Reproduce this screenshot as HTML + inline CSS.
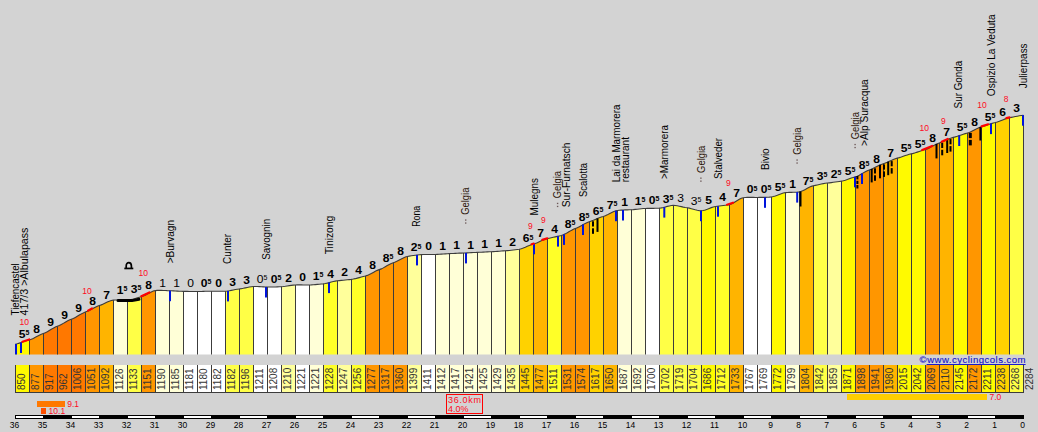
<!DOCTYPE html><html><head><meta charset="utf-8"><title>Julierpass</title><style>html,body{margin:0;padding:0;background:#d3d3d3;}body{width:1038px;height:432px;position:relative;overflow:hidden;font-family:"Liberation Sans",sans-serif;}</style></head><body><svg width="1038" height="432" viewBox="0 0 1038 432" style="position:absolute;left:0;top:0" font-family="Liberation Sans, sans-serif">
<rect width="1038" height="432" fill="#d3d3d3"/>
<polygon points="15,354.5 15,344.20 17,343.73 19,343.14 21,342.48 23,341.77 25,341.08 27,340.44 29,339.89 29,354.5" fill="#fffa00"/>
<polygon points="29,354.5 29,339.89 31,339.25 33,338.38 35,337.35 37,336.26 39,335.20 41,334.25 43,333.50 43,354.5" fill="#ff9600"/>
<polygon points="43,354.5 43,333.50 45,332.73 47,331.71 49,330.54 51,329.32 53,328.15 55,327.11 57,326.31 57,354.5" fill="#ff7800"/>
<polygon points="57,354.5 57,326.31 59,325.53 61,324.52 63,323.39 65,322.21 67,321.08 69,320.07 71,319.29 71,354.5" fill="#ff7800"/>
<polygon points="71,354.5 71,319.29 73,318.49 75,317.46 77,316.28 79,315.07 81,313.90 83,312.88 85,312.10 85,354.5" fill="#ff7800"/>
<polygon points="85,354.5 85,312.10 87,311.34 89,310.39 91,309.31 93,308.20 95,307.15 97,306.24 99,305.55 99,354.5" fill="#ff9600"/>
<polygon points="99,354.5 99,305.55 101,304.88 103,304.02 105,303.06 107,302.09 109,301.22 111,300.53 113,300.12 113,354.5" fill="#ffb400"/>
<polygon points="113,354.5 113,300.12 115,299.98 117,299.98 119,300.07 121,300.21 123,300.33 125,300.38 127,300.30 127,354.5" fill="#ffffd7"/>
<polygon points="127,354.5 127,300.30 129,300.04 131,299.61 133,299.06 135,298.44 137,297.80 139,297.21 141,296.70 141,354.5" fill="#ffff46"/>
<polygon points="141,354.5 141,296.70 143,296.07 145,295.15 147,294.07 149,292.94 151,291.91 153,291.09 155,290.60 155,354.5" fill="#ff9600"/>
<polygon points="155,354.5 155,290.60 157,290.40 159,290.33 161,290.35 163,290.43 165,290.53 167,290.64 169,290.70 169,354.5" fill="#ffffd7"/>
<polygon points="169,354.5 169,290.70 171,290.76 173,290.85 175,290.96 177,291.08 179,291.19 181,291.28 183,291.34 183,354.5" fill="#ffffd7"/>
<polygon points="183,354.5 183,291.34 185,291.38 187,291.41 189,291.44 191,291.47 193,291.49 195,291.50 197,291.50 197,354.5" fill="#ffffff"/>
<polygon points="197,354.5 197,291.50 199,291.48 201,291.43 203,291.38 205,291.31 207,291.25 209,291.21 211,291.18 211,354.5" fill="#ffffff"/>
<polygon points="211,354.5 211,291.18 213,291.18 215,291.21 217,291.24 219,291.27 221,291.28 223,291.25 225,291.18 225,354.5" fill="#ffffff"/>
<polygon points="225,354.5 225,291.18 227,291.01 229,290.72 231,290.36 233,289.96 235,289.56 237,289.21 239,288.94 239,354.5" fill="#ffff46"/>
<polygon points="239,354.5 239,288.94 241,288.67 243,288.29 245,287.86 247,287.42 249,287.03 251,286.72 253,286.55 253,354.5" fill="#ffff46"/>
<polygon points="253,354.5 253,286.55 255,286.51 257,286.55 259,286.65 261,286.77 263,286.89 265,286.98 267,287.03 267,354.5" fill="#ffffff"/>
<polygon points="267,354.5 267,287.03 269,287.03 271,287.01 273,286.98 275,286.93 277,286.87 279,286.80 281,286.71 281,354.5" fill="#ffffff"/>
<polygon points="281,354.5 281,286.71 283,286.55 285,286.30 287,285.98 289,285.65 291,285.34 293,285.10 295,284.95 295,354.5" fill="#ffff9b"/>
<polygon points="295,354.5 295,284.95 297,284.90 299,284.89 301,284.91 303,284.94 305,284.97 307,284.98 309,284.95 309,354.5" fill="#ffffff"/>
<polygon points="309,354.5 309,284.95 311,284.88 313,284.76 315,284.60 317,284.42 319,284.23 321,284.03 323,283.83 323,354.5" fill="#ffffd7"/>
<polygon points="323,354.5 323,283.83 325,283.55 327,283.12 329,282.60 331,282.05 333,281.53 335,281.09 337,280.80 337,354.5" fill="#ffff28"/>
<polygon points="337,354.5 337,280.80 339,280.60 341,280.39 343,280.19 345,279.99 347,279.79 349,279.58 351,279.36 351,354.5" fill="#ffff9b"/>
<polygon points="351,354.5 351,279.36 353,279.07 355,278.66 357,278.15 359,277.60 361,277.04 363,276.49 365,276.01 365,354.5" fill="#ffff28"/>
<polygon points="365,354.5 365,276.01 367,275.40 369,274.53 371,273.50 373,272.40 375,271.32 377,270.36 379,269.62 379,354.5" fill="#ff9600"/>
<polygon points="379,354.5 379,269.62 381,268.87 383,267.88 385,266.76 387,265.60 389,264.48 391,263.50 393,262.75 393,354.5" fill="#ff9600"/>
<polygon points="393,354.5 393,262.75 395,262.01 397,261.06 399,259.99 401,258.90 403,257.90 405,257.07 407,256.52 407,354.5" fill="#ff9600"/>
<polygon points="407,354.5 407,256.52 409,256.16 411,255.80 413,255.48 415,255.18 417,254.93 419,254.74 421,254.61 421,354.5" fill="#ffff9b"/>
<polygon points="421,354.5 421,254.61 423,254.54 425,254.50 427,254.48 429,254.48 431,254.49 433,254.48 435,254.45 435,354.5" fill="#ffffff"/>
<polygon points="435,354.5 435,254.45 437,254.38 439,254.27 441,254.14 443,254.00 445,253.86 447,253.74 449,253.65 449,354.5" fill="#ffffd7"/>
<polygon points="449,354.5 449,253.65 451,253.57 453,253.48 455,253.38 457,253.27 459,253.17 461,253.08 463,253.01 463,354.5" fill="#ffffd7"/>
<polygon points="463,354.5 463,253.01 465,252.94 467,252.85 469,252.75 471,252.64 473,252.53 475,252.44 477,252.37 477,354.5" fill="#ffffd7"/>
<polygon points="477,354.5 477,252.37 479,252.30 481,252.22 483,252.12 485,252.01 487,251.91 489,251.82 491,251.73 491,354.5" fill="#ffffd7"/>
<polygon points="491,354.5 491,251.73 493,251.64 495,251.52 497,251.37 499,251.21 501,251.05 503,250.91 505,250.78 505,354.5" fill="#ffffd7"/>
<polygon points="505,354.5 505,250.78 507,250.64 509,250.46 511,250.26 513,250.02 515,249.76 517,249.48 519,249.18 519,354.5" fill="#ffff9b"/>
<polygon points="519,354.5 519,249.18 521,248.73 523,248.05 525,247.22 527,246.33 529,245.45 531,244.67 533,244.07 533,354.5" fill="#ffd200"/>
<polygon points="533,354.5 533,244.07 535,243.46 537,242.66 539,241.75 541,240.81 543,239.92 545,239.17 547,238.64 547,354.5" fill="#ffb400"/>
<polygon points="547,354.5 547,238.64 549,238.23 551,237.79 553,237.33 555,236.86 557,236.39 559,235.91 561,235.44 561,354.5" fill="#ffff28"/>
<polygon points="561,354.5 561,235.44 563,234.80 565,233.87 567,232.75 569,231.56 571,230.39 573,229.36 575,228.58 575,354.5" fill="#ff9600"/>
<polygon points="575,354.5 575,228.58 577,227.80 579,226.80 581,225.67 583,224.50 585,223.38 587,222.42 589,221.71 589,354.5" fill="#ff9600"/>
<polygon points="589,354.5 589,221.71 591,221.07 593,220.31 595,219.47 597,218.61 599,217.78 601,217.04 603,216.44 603,354.5" fill="#ffd200"/>
<polygon points="603,354.5 603,216.44 605,215.77 607,214.87 609,213.84 611,212.78 613,211.81 615,211.02 617,210.53 617,354.5" fill="#ffb400"/>
<polygon points="617,354.5 617,210.53 619,210.27 621,210.10 623,209.99 625,209.91 627,209.86 629,209.81 631,209.73 631,354.5" fill="#ffffd7"/>
<polygon points="631,354.5 631,209.73 633,209.60 635,209.41 637,209.19 639,208.96 641,208.74 643,208.57 645,208.45 645,354.5" fill="#ffffd7"/>
<polygon points="645,354.5 645,208.45 647,208.40 649,208.37 651,208.36 653,208.34 655,208.31 657,208.25 659,208.14 659,354.5" fill="#ffffff"/>
<polygon points="659,354.5 659,208.14 661,207.89 663,207.46 665,206.94 667,206.40 669,205.92 671,205.56 673,205.42 673,354.5" fill="#ffff46"/>
<polygon points="673,354.5 673,205.42 675,205.51 677,205.78 679,206.17 681,206.63 683,207.09 685,207.50 687,207.82 687,354.5" fill="#ffff46"/>
<polygon points="687,354.5 687,207.82 689,208.16 691,208.66 693,209.23 695,209.79 697,210.28 699,210.60 701,210.69 701,354.5" fill="#ffff46"/>
<polygon points="701,354.5 701,210.69 703,210.45 705,209.92 707,209.20 709,208.40 711,207.62 713,206.97 715,206.54 715,354.5" fill="#fffa00"/>
<polygon points="715,354.5 715,206.54 717,206.28 719,206.03 721,205.80 723,205.55 725,205.28 727,204.97 729,204.60 729,354.5" fill="#ffff28"/>
<polygon points="729,354.5 729,204.60 731,203.97 733,202.97 735,201.75 737,200.47 739,199.28 741,198.33 743,197.76 743,354.5" fill="#ffb400"/>
<polygon points="743,354.5 743,197.76 745,197.50 747,197.37 749,197.34 751,197.36 753,197.40 755,197.44 757,197.44 757,354.5" fill="#ffffff"/>
<polygon points="757,354.5 757,197.44 759,197.41 761,197.39 763,197.37 765,197.33 767,197.26 769,197.14 771,196.96 771,354.5" fill="#ffffff"/>
<polygon points="771,354.5 771,196.96 773,196.59 775,195.97 777,195.22 779,194.41 781,193.65 783,193.03 785,192.64 785,354.5" fill="#fffa00"/>
<polygon points="785,354.5 785,192.64 787,192.47 789,192.38 791,192.33 793,192.30 795,192.23 797,192.09 799,191.85 799,354.5" fill="#ffffd7"/>
<polygon points="799,354.5 799,191.85 801,191.33 803,190.49 805,189.45 807,188.33 809,187.26 811,186.37 813,185.78 813,354.5" fill="#ffb400"/>
<polygon points="813,354.5 813,185.78 815,185.36 817,184.92 819,184.47 821,184.04 823,183.65 825,183.32 827,183.06 827,354.5" fill="#ffff46"/>
<polygon points="827,354.5 827,183.06 829,182.84 831,182.58 833,182.31 835,182.02 837,181.73 839,181.44 841,181.15 841,354.5" fill="#ffff9b"/>
<polygon points="841,354.5 841,181.15 843,180.76 845,180.21 847,179.55 849,178.82 851,178.09 853,177.41 855,176.83 855,354.5" fill="#fffa00"/>
<polygon points="855,354.5 855,176.83 857,176.15 859,175.20 861,174.07 863,172.88 865,171.73 867,170.72 869,169.97 869,354.5" fill="#ff9600"/>
<polygon points="869,354.5 869,169.97 871,169.25 873,168.34 875,167.33 877,166.28 879,165.28 881,164.41 883,163.74 883,354.5" fill="#ff9600"/>
<polygon points="883,354.5 883,163.74 885,163.09 887,162.26 889,161.34 891,160.40 893,159.50 895,158.73 897,158.15 897,354.5" fill="#ffb400"/>
<polygon points="897,354.5 897,158.15 899,157.63 901,156.99 903,156.30 905,155.59 907,154.91 909,154.31 911,153.84 911,354.5" fill="#fffa00"/>
<polygon points="911,354.5 911,153.84 913,153.37 915,152.78 917,152.12 919,151.42 921,150.73 923,150.08 925,149.53 925,354.5" fill="#fffa00"/>
<polygon points="925,354.5 925,149.53 927,148.87 929,147.95 931,146.87 933,145.73 935,144.64 937,143.69 939,142.98 939,354.5" fill="#ff9600"/>
<polygon points="939,354.5 939,142.98 941,142.32 943,141.49 945,140.57 947,139.62 949,138.73 951,137.96 953,137.39 953,354.5" fill="#ffb400"/>
<polygon points="953,354.5 953,137.39 955,136.88 957,136.27 959,135.60 961,134.91 963,134.24 965,133.61 967,133.08 967,354.5" fill="#fffa00"/>
<polygon points="967,354.5 967,133.08 969,132.44 971,131.55 973,130.51 975,129.42 977,128.38 979,127.49 981,126.85 981,354.5" fill="#ff9600"/>
<polygon points="981,354.5 981,126.85 983,126.31 985,125.67 987,124.98 989,124.29 991,123.62 993,123.02 995,122.54 995,354.5" fill="#fffa00"/>
<polygon points="995,354.5 995,122.54 997,122.01 999,121.30 1001,120.49 1003,119.65 1005,118.87 1007,118.21 1009,117.75 1009,354.5" fill="#ffd200"/>
<polygon points="1009,354.5 1009,117.75 1011,117.39 1013,116.99 1015,116.58 1017,116.18 1019,115.80 1021,115.46 1023,115.19 1023,354.5" fill="#ffff46"/>
<line x1="29.5" y1="339.9" x2="29.5" y2="354.5" stroke="#3c3c3c" stroke-width="1"/>
<line x1="43.5" y1="333.5" x2="43.5" y2="354.5" stroke="#3c3c3c" stroke-width="1"/>
<line x1="57.5" y1="326.3" x2="57.5" y2="354.5" stroke="#3c3c3c" stroke-width="1"/>
<line x1="71.5" y1="319.3" x2="71.5" y2="354.5" stroke="#3c3c3c" stroke-width="1"/>
<line x1="85.5" y1="312.1" x2="85.5" y2="354.5" stroke="#3c3c3c" stroke-width="1"/>
<line x1="99.5" y1="305.6" x2="99.5" y2="354.5" stroke="#3c3c3c" stroke-width="1"/>
<line x1="113.5" y1="300.1" x2="113.5" y2="354.5" stroke="#3c3c3c" stroke-width="1"/>
<line x1="127.5" y1="300.3" x2="127.5" y2="354.5" stroke="#3c3c3c" stroke-width="1"/>
<line x1="141.5" y1="296.7" x2="141.5" y2="354.5" stroke="#3c3c3c" stroke-width="1"/>
<line x1="155.5" y1="290.6" x2="155.5" y2="354.5" stroke="#3c3c3c" stroke-width="1"/>
<line x1="169.5" y1="290.7" x2="169.5" y2="354.5" stroke="#3c3c3c" stroke-width="1"/>
<line x1="183.5" y1="291.3" x2="183.5" y2="354.5" stroke="#3c3c3c" stroke-width="1"/>
<line x1="197.5" y1="291.5" x2="197.5" y2="354.5" stroke="#3c3c3c" stroke-width="1"/>
<line x1="211.5" y1="291.2" x2="211.5" y2="354.5" stroke="#3c3c3c" stroke-width="1"/>
<line x1="225.5" y1="291.2" x2="225.5" y2="354.5" stroke="#3c3c3c" stroke-width="1"/>
<line x1="239.5" y1="288.9" x2="239.5" y2="354.5" stroke="#3c3c3c" stroke-width="1"/>
<line x1="253.5" y1="286.5" x2="253.5" y2="354.5" stroke="#3c3c3c" stroke-width="1"/>
<line x1="267.5" y1="287.0" x2="267.5" y2="354.5" stroke="#3c3c3c" stroke-width="1"/>
<line x1="281.5" y1="286.7" x2="281.5" y2="354.5" stroke="#3c3c3c" stroke-width="1"/>
<line x1="295.5" y1="285.0" x2="295.5" y2="354.5" stroke="#3c3c3c" stroke-width="1"/>
<line x1="309.5" y1="285.0" x2="309.5" y2="354.5" stroke="#3c3c3c" stroke-width="1"/>
<line x1="323.5" y1="283.8" x2="323.5" y2="354.5" stroke="#3c3c3c" stroke-width="1"/>
<line x1="337.5" y1="280.8" x2="337.5" y2="354.5" stroke="#3c3c3c" stroke-width="1"/>
<line x1="351.5" y1="279.4" x2="351.5" y2="354.5" stroke="#3c3c3c" stroke-width="1"/>
<line x1="365.5" y1="276.0" x2="365.5" y2="354.5" stroke="#3c3c3c" stroke-width="1"/>
<line x1="379.5" y1="269.6" x2="379.5" y2="354.5" stroke="#3c3c3c" stroke-width="1"/>
<line x1="393.5" y1="262.8" x2="393.5" y2="354.5" stroke="#3c3c3c" stroke-width="1"/>
<line x1="407.5" y1="256.5" x2="407.5" y2="354.5" stroke="#3c3c3c" stroke-width="1"/>
<line x1="421.5" y1="254.6" x2="421.5" y2="354.5" stroke="#3c3c3c" stroke-width="1"/>
<line x1="435.5" y1="254.4" x2="435.5" y2="354.5" stroke="#3c3c3c" stroke-width="1"/>
<line x1="449.5" y1="253.7" x2="449.5" y2="354.5" stroke="#3c3c3c" stroke-width="1"/>
<line x1="463.5" y1="253.0" x2="463.5" y2="354.5" stroke="#3c3c3c" stroke-width="1"/>
<line x1="477.5" y1="252.4" x2="477.5" y2="354.5" stroke="#3c3c3c" stroke-width="1"/>
<line x1="491.5" y1="251.7" x2="491.5" y2="354.5" stroke="#3c3c3c" stroke-width="1"/>
<line x1="505.5" y1="250.8" x2="505.5" y2="354.5" stroke="#3c3c3c" stroke-width="1"/>
<line x1="519.5" y1="249.2" x2="519.5" y2="354.5" stroke="#3c3c3c" stroke-width="1"/>
<line x1="533.5" y1="244.1" x2="533.5" y2="354.5" stroke="#3c3c3c" stroke-width="1"/>
<line x1="547.5" y1="238.6" x2="547.5" y2="354.5" stroke="#3c3c3c" stroke-width="1"/>
<line x1="561.5" y1="235.4" x2="561.5" y2="354.5" stroke="#3c3c3c" stroke-width="1"/>
<line x1="575.5" y1="228.6" x2="575.5" y2="354.5" stroke="#3c3c3c" stroke-width="1"/>
<line x1="589.5" y1="221.7" x2="589.5" y2="354.5" stroke="#3c3c3c" stroke-width="1"/>
<line x1="603.5" y1="216.4" x2="603.5" y2="354.5" stroke="#3c3c3c" stroke-width="1"/>
<line x1="617.5" y1="210.5" x2="617.5" y2="354.5" stroke="#3c3c3c" stroke-width="1"/>
<line x1="631.5" y1="209.7" x2="631.5" y2="354.5" stroke="#3c3c3c" stroke-width="1"/>
<line x1="645.5" y1="208.5" x2="645.5" y2="354.5" stroke="#3c3c3c" stroke-width="1"/>
<line x1="659.5" y1="208.1" x2="659.5" y2="354.5" stroke="#3c3c3c" stroke-width="1"/>
<line x1="673.5" y1="205.4" x2="673.5" y2="354.5" stroke="#3c3c3c" stroke-width="1"/>
<line x1="687.5" y1="207.8" x2="687.5" y2="354.5" stroke="#3c3c3c" stroke-width="1"/>
<line x1="701.5" y1="210.7" x2="701.5" y2="354.5" stroke="#3c3c3c" stroke-width="1"/>
<line x1="715.5" y1="206.5" x2="715.5" y2="354.5" stroke="#3c3c3c" stroke-width="1"/>
<line x1="729.5" y1="204.6" x2="729.5" y2="354.5" stroke="#3c3c3c" stroke-width="1"/>
<line x1="743.5" y1="197.8" x2="743.5" y2="354.5" stroke="#3c3c3c" stroke-width="1"/>
<line x1="757.5" y1="197.4" x2="757.5" y2="354.5" stroke="#3c3c3c" stroke-width="1"/>
<line x1="771.5" y1="197.0" x2="771.5" y2="354.5" stroke="#3c3c3c" stroke-width="1"/>
<line x1="785.5" y1="192.6" x2="785.5" y2="354.5" stroke="#3c3c3c" stroke-width="1"/>
<line x1="799.5" y1="191.8" x2="799.5" y2="354.5" stroke="#3c3c3c" stroke-width="1"/>
<line x1="813.5" y1="185.8" x2="813.5" y2="354.5" stroke="#3c3c3c" stroke-width="1"/>
<line x1="827.5" y1="183.1" x2="827.5" y2="354.5" stroke="#3c3c3c" stroke-width="1"/>
<line x1="841.5" y1="181.1" x2="841.5" y2="354.5" stroke="#3c3c3c" stroke-width="1"/>
<line x1="855.5" y1="176.8" x2="855.5" y2="354.5" stroke="#3c3c3c" stroke-width="1"/>
<line x1="869.5" y1="170.0" x2="869.5" y2="354.5" stroke="#3c3c3c" stroke-width="1"/>
<line x1="883.5" y1="163.7" x2="883.5" y2="354.5" stroke="#3c3c3c" stroke-width="1"/>
<line x1="897.5" y1="158.1" x2="897.5" y2="354.5" stroke="#3c3c3c" stroke-width="1"/>
<line x1="911.5" y1="153.8" x2="911.5" y2="354.5" stroke="#3c3c3c" stroke-width="1"/>
<line x1="925.5" y1="149.5" x2="925.5" y2="354.5" stroke="#3c3c3c" stroke-width="1"/>
<line x1="939.5" y1="143.0" x2="939.5" y2="354.5" stroke="#3c3c3c" stroke-width="1"/>
<line x1="953.5" y1="137.4" x2="953.5" y2="354.5" stroke="#3c3c3c" stroke-width="1"/>
<line x1="967.5" y1="133.1" x2="967.5" y2="354.5" stroke="#3c3c3c" stroke-width="1"/>
<line x1="981.5" y1="126.8" x2="981.5" y2="354.5" stroke="#3c3c3c" stroke-width="1"/>
<line x1="995.5" y1="122.5" x2="995.5" y2="354.5" stroke="#3c3c3c" stroke-width="1"/>
<line x1="1009.5" y1="117.7" x2="1009.5" y2="354.5" stroke="#3c3c3c" stroke-width="1"/>
<line x1="1023.5" y1="115.2" x2="1023.5" y2="354.5" stroke="#3c3c3c" stroke-width="1"/>
<polyline points="15.3,344.20 17.3,343.73 19.3,343.14 21.3,342.48 23.3,341.77 25.3,341.08 27.3,340.44 29.3,339.89 31.3,339.25 33.3,338.38 35.3,337.35 37.3,336.26 39.3,335.20 41.3,334.25 43.3,333.50 45.3,332.73 47.3,331.71 49.3,330.54 51.3,329.32 53.3,328.15 55.3,327.11 57.3,326.31 59.3,325.53 61.3,324.52 63.3,323.39 65.3,322.21 67.3,321.08 69.3,320.07 71.3,319.29 73.3,318.49 75.3,317.46 77.3,316.28 79.3,315.07 81.3,313.90 83.3,312.88 85.3,312.10 87.3,311.34 89.3,310.39 91.3,309.31 93.3,308.20 95.3,307.15 97.3,306.24 99.3,305.55 101.3,304.88 103.3,304.02 105.3,303.06 107.3,302.09 109.3,301.22 111.3,300.53 113.3,300.12 115.3,299.98 117.3,299.98 119.3,300.07 121.3,300.21 123.3,300.33 125.3,300.38 127.3,300.30 129.3,300.04 131.3,299.61 133.3,299.06 135.3,298.44 137.3,297.80 139.3,297.21 141.3,296.70 143.3,296.07 145.3,295.15 147.3,294.07 149.3,292.94 151.3,291.91 153.3,291.09 155.3,290.60 157.3,290.40 159.3,290.33 161.3,290.35 163.3,290.43 165.3,290.53 167.3,290.64 169.3,290.70 171.3,290.76 173.3,290.85 175.3,290.96 177.3,291.08 179.3,291.19 181.3,291.28 183.3,291.34 185.3,291.38 187.3,291.41 189.3,291.44 191.3,291.47 193.3,291.49 195.3,291.50 197.3,291.50 199.3,291.48 201.3,291.43 203.3,291.38 205.3,291.31 207.3,291.25 209.3,291.21 211.3,291.18 213.3,291.18 215.3,291.21 217.3,291.24 219.3,291.27 221.3,291.28 223.3,291.25 225.3,291.18 227.3,291.01 229.3,290.72 231.3,290.36 233.3,289.96 235.3,289.56 237.3,289.21 239.3,288.94 241.3,288.67 243.3,288.29 245.3,287.86 247.3,287.42 249.3,287.03 251.3,286.72 253.3,286.55 255.3,286.51 257.3,286.55 259.3,286.65 261.3,286.77 263.3,286.89 265.3,286.98 267.3,287.03 269.3,287.03 271.3,287.01 273.3,286.98 275.3,286.93 277.3,286.87 279.3,286.80 281.3,286.71 283.3,286.55 285.3,286.30 287.3,285.98 289.3,285.65 291.3,285.34 293.3,285.10 295.3,284.95 297.3,284.90 299.3,284.89 301.3,284.91 303.3,284.94 305.3,284.97 307.3,284.98 309.3,284.95 311.3,284.88 313.3,284.76 315.3,284.60 317.3,284.42 319.3,284.23 321.3,284.03 323.3,283.83 325.3,283.55 327.3,283.12 329.3,282.60 331.3,282.05 333.3,281.53 335.3,281.09 337.3,280.80 339.3,280.60 341.3,280.39 343.3,280.19 345.3,279.99 347.3,279.79 349.3,279.58 351.3,279.36 353.3,279.07 355.3,278.66 357.3,278.15 359.3,277.60 361.3,277.04 363.3,276.49 365.3,276.01 367.3,275.40 369.3,274.53 371.3,273.50 373.3,272.40 375.3,271.32 377.3,270.36 379.3,269.62 381.3,268.87 383.3,267.88 385.3,266.76 387.3,265.60 389.3,264.48 391.3,263.50 393.3,262.75 395.3,262.01 397.3,261.06 399.3,259.99 401.3,258.90 403.3,257.90 405.3,257.07 407.3,256.52 409.3,256.16 411.3,255.80 413.3,255.48 415.3,255.18 417.3,254.93 419.3,254.74 421.3,254.61 423.3,254.54 425.3,254.50 427.3,254.48 429.3,254.48 431.3,254.49 433.3,254.48 435.3,254.45 437.3,254.38 439.3,254.27 441.3,254.14 443.3,254.00 445.3,253.86 447.3,253.74 449.3,253.65 451.3,253.57 453.3,253.48 455.3,253.38 457.3,253.27 459.3,253.17 461.3,253.08 463.3,253.01 465.3,252.94 467.3,252.85 469.3,252.75 471.3,252.64 473.3,252.53 475.3,252.44 477.3,252.37 479.3,252.30 481.3,252.22 483.3,252.12 485.3,252.01 487.3,251.91 489.3,251.82 491.3,251.73 493.3,251.64 495.3,251.52 497.3,251.37 499.3,251.21 501.3,251.05 503.3,250.91 505.3,250.78 507.3,250.64 509.3,250.46 511.3,250.26 513.3,250.02 515.3,249.76 517.3,249.48 519.3,249.18 521.3,248.73 523.3,248.05 525.3,247.22 527.3,246.33 529.3,245.45 531.3,244.67 533.3,244.07 535.3,243.46 537.3,242.66 539.3,241.75 541.3,240.81 543.3,239.92 545.3,239.17 547.3,238.64 549.3,238.23 551.3,237.79 553.3,237.33 555.3,236.86 557.3,236.39 559.3,235.91 561.3,235.44 563.3,234.80 565.3,233.87 567.3,232.75 569.3,231.56 571.3,230.39 573.3,229.36 575.3,228.58 577.3,227.80 579.3,226.80 581.3,225.67 583.3,224.50 585.3,223.38 587.3,222.42 589.3,221.71 591.3,221.07 593.3,220.31 595.3,219.47 597.3,218.61 599.3,217.78 601.3,217.04 603.3,216.44 605.3,215.77 607.3,214.87 609.3,213.84 611.3,212.78 613.3,211.81 615.3,211.02 617.3,210.53 619.3,210.27 621.3,210.10 623.3,209.99 625.3,209.91 627.3,209.86 629.3,209.81 631.3,209.73 633.3,209.60 635.3,209.41 637.3,209.19 639.3,208.96 641.3,208.74 643.3,208.57 645.3,208.45 647.3,208.40 649.3,208.37 651.3,208.36 653.3,208.34 655.3,208.31 657.3,208.25 659.3,208.14 661.3,207.89 663.3,207.46 665.3,206.94 667.3,206.40 669.3,205.92 671.3,205.56 673.3,205.42 675.3,205.51 677.3,205.78 679.3,206.17 681.3,206.63 683.3,207.09 685.3,207.50 687.3,207.82 689.3,208.16 691.3,208.66 693.3,209.23 695.3,209.79 697.3,210.28 699.3,210.60 701.3,210.69 703.3,210.45 705.3,209.92 707.3,209.20 709.3,208.40 711.3,207.62 713.3,206.97 715.3,206.54 717.3,206.28 719.3,206.03 721.3,205.80 723.3,205.55 725.3,205.28 727.3,204.97 729.3,204.60 731.3,203.97 733.3,202.97 735.3,201.75 737.3,200.47 739.3,199.28 741.3,198.33 743.3,197.76 745.3,197.50 747.3,197.37 749.3,197.34 751.3,197.36 753.3,197.40 755.3,197.44 757.3,197.44 759.3,197.41 761.3,197.39 763.3,197.37 765.3,197.33 767.3,197.26 769.3,197.14 771.3,196.96 773.3,196.59 775.3,195.97 777.3,195.22 779.3,194.41 781.3,193.65 783.3,193.03 785.3,192.64 787.3,192.47 789.3,192.38 791.3,192.33 793.3,192.30 795.3,192.23 797.3,192.09 799.3,191.85 801.3,191.33 803.3,190.49 805.3,189.45 807.3,188.33 809.3,187.26 811.3,186.37 813.3,185.78 815.3,185.36 817.3,184.92 819.3,184.47 821.3,184.04 823.3,183.65 825.3,183.32 827.3,183.06 829.3,182.84 831.3,182.58 833.3,182.31 835.3,182.02 837.3,181.73 839.3,181.44 841.3,181.15 843.3,180.76 845.3,180.21 847.3,179.55 849.3,178.82 851.3,178.09 853.3,177.41 855.3,176.83 857.3,176.15 859.3,175.20 861.3,174.07 863.3,172.88 865.3,171.73 867.3,170.72 869.3,169.97 871.3,169.25 873.3,168.34 875.3,167.33 877.3,166.28 879.3,165.28 881.3,164.41 883.3,163.74 885.3,163.09 887.3,162.26 889.3,161.34 891.3,160.40 893.3,159.50 895.3,158.73 897.3,158.15 899.3,157.63 901.3,156.99 903.3,156.30 905.3,155.59 907.3,154.91 909.3,154.31 911.3,153.84 913.3,153.37 915.3,152.78 917.3,152.12 919.3,151.42 921.3,150.73 923.3,150.08 925.3,149.53 927.3,148.87 929.3,147.95 931.3,146.87 933.3,145.73 935.3,144.64 937.3,143.69 939.3,142.98 941.3,142.32 943.3,141.49 945.3,140.57 947.3,139.62 949.3,138.73 951.3,137.96 953.3,137.39 955.3,136.88 957.3,136.27 959.3,135.60 961.3,134.91 963.3,134.24 965.3,133.61 967.3,133.08 969.3,132.44 971.3,131.55 973.3,130.51 975.3,129.42 977.3,128.38 979.3,127.49 981.3,126.85 983.3,126.31 985.3,125.67 987.3,124.98 989.3,124.29 991.3,123.62 993.3,123.02 995.3,122.54 997.3,122.01 999.3,121.30 1001.3,120.49 1003.3,119.65 1005.3,118.87 1007.3,118.21 1009.3,117.75 1011.3,117.39 1013.3,116.99 1015.3,116.58 1017.3,116.18 1019.3,115.80 1021.3,115.46 1023.3,115.19" fill="none" stroke="#3c3c3c" stroke-width="1.1"/>
<rect x="592.0" y="221.3" width="2" height="5.2" fill="#000"/>
<rect x="592.0" y="228.3" width="2" height="5.5" fill="#000"/>
<rect x="596.5" y="218.4" width="2" height="13.5" fill="#000"/>
<rect x="799.5" y="191.5" width="2" height="15.0" fill="#000"/>
<rect x="856.4" y="176.0" width="2" height="3.4" fill="#000"/>
<rect x="856.4" y="180.8" width="2" height="3.2" fill="#000"/>
<rect x="856.4" y="185.0" width="2" height="3.5" fill="#000"/>
<rect x="870.7" y="168.9" width="2" height="13.5" fill="#000"/>
<rect x="874.0" y="168.3" width="2" height="5.2" fill="#000"/>
<rect x="874.0" y="175.3" width="2" height="5.5" fill="#000"/>
<rect x="879.0" y="164.8" width="2" height="13.5" fill="#000"/>
<rect x="883.0" y="164.4" width="2" height="5.2" fill="#000"/>
<rect x="883.0" y="171.4" width="2" height="5.5" fill="#000"/>
<rect x="887.2" y="161.7" width="2" height="13.5" fill="#000"/>
<rect x="890.7" y="161.1" width="2" height="5.2" fill="#000"/>
<rect x="890.7" y="168.1" width="2" height="5.5" fill="#000"/>
<rect x="935.5" y="143.9" width="2" height="14.5" fill="#000"/>
<rect x="941.2" y="142.8" width="2" height="5.2" fill="#000"/>
<rect x="941.2" y="149.8" width="2" height="5.5" fill="#000"/>
<rect x="946.2" y="139.5" width="2" height="13.5" fill="#000"/>
<rect x="949.5" y="139.1" width="2" height="5.2" fill="#000"/>
<rect x="949.5" y="146.1" width="2" height="5.5" fill="#000"/>
<rect x="968.8" y="132.9" width="3" height="5.2" fill="#000"/>
<rect x="968.8" y="139.9" width="3" height="5.5" fill="#000"/>
<rect x="979.4" y="127.0" width="2" height="13.5" fill="#000"/>
<path d="M118,300.6 L132,300.6 L139,299.2" fill="none" stroke="#000" stroke-width="3" stroke-linecap="round"/>
<path d="M126.2,268.2 L126.2,266 A2.6,3.4 0 0 1 131.4,266 L131.4,268.2" fill="#d9d9d9" stroke="#000" stroke-width="1.7"/>
<rect x="124.3" y="267.6" width="9" height="1.7" fill="#000"/>
<rect x="15.0" y="344.0" width="2" height="10.5" fill="#0014dc"/>
<rect x="20.0" y="342.5" width="2" height="10.5" fill="#0014dc"/>
<rect x="169.0" y="290.7" width="2" height="10.5" fill="#0014dc"/>
<rect x="227.0" y="290.9" width="2" height="10.5" fill="#0014dc"/>
<rect x="265.0" y="287.0" width="2" height="10.5" fill="#0014dc"/>
<rect x="328.0" y="282.6" width="2" height="10.5" fill="#0014dc"/>
<rect x="416.0" y="254.9" width="2" height="10.5" fill="#0014dc"/>
<rect x="465.0" y="252.9" width="2" height="10.5" fill="#0014dc"/>
<rect x="533.0" y="243.8" width="2" height="10.5" fill="#0014dc"/>
<rect x="557.0" y="236.1" width="2" height="10.5" fill="#0014dc"/>
<rect x="563.0" y="234.4" width="2" height="10.5" fill="#0014dc"/>
<rect x="582.0" y="224.5" width="2" height="10.5" fill="#0014dc"/>
<rect x="615.0" y="210.7" width="2" height="10.5" fill="#0014dc"/>
<rect x="622.0" y="210.0" width="2" height="10.5" fill="#0014dc"/>
<rect x="663.3" y="207.1" width="2" height="10.5" fill="#0014dc"/>
<rect x="700.0" y="210.7" width="2" height="10.5" fill="#0014dc"/>
<rect x="717.0" y="206.2" width="2" height="10.5" fill="#0014dc"/>
<rect x="764.0" y="197.3" width="2" height="10.5" fill="#0014dc"/>
<rect x="796.2" y="192.1" width="2" height="10.5" fill="#0014dc"/>
<rect x="854.0" y="176.8" width="2" height="10.5" fill="#0014dc"/>
<rect x="861.0" y="173.5" width="2" height="10.5" fill="#0014dc"/>
<rect x="958.2" y="135.5" width="2" height="10.5" fill="#0014dc"/>
<rect x="990.0" y="123.6" width="2" height="10.5" fill="#0014dc"/>
<rect x="1022.0" y="115.2" width="2" height="10.5" fill="#0014dc"/>
<line x1="22.4" y1="341.7" x2="29.3" y2="339.5" stroke="#ff0000" stroke-width="2.2" stroke-linecap="round"/>
<line x1="141.3" y1="296.3" x2="149.4" y2="292.4" stroke="#ff0000" stroke-width="2.2" stroke-linecap="round"/>
<line x1="88" y1="310.6" x2="92" y2="308.5" stroke="#ff0000" stroke-width="2.2" stroke-linecap="round"/>
<line x1="531.5" y1="244.2" x2="533.8" y2="243.6" stroke="#ff0000" stroke-width="2.2" stroke-linecap="round"/>
<line x1="542.3" y1="239.9" x2="547.3" y2="238.3" stroke="#ff0000" stroke-width="2.2" stroke-linecap="round"/>
<line x1="727" y1="204.7" x2="733" y2="202.7" stroke="#ff0000" stroke-width="2.2" stroke-linecap="round"/>
<line x1="922.2" y1="150.0" x2="932.1" y2="145.9" stroke="#ff0000" stroke-width="2.2" stroke-linecap="round"/>
<line x1="941.7" y1="141.7" x2="947.7" y2="139.0" stroke="#ff0000" stroke-width="2.2" stroke-linecap="round"/>
<line x1="981.6" y1="126.4" x2="988.2" y2="124.3" stroke="#ff0000" stroke-width="2.2" stroke-linecap="round"/>
<line x1="1006.4" y1="118.1" x2="1009.5" y2="117.4" stroke="#ff0000" stroke-width="2.2" stroke-linecap="round"/>
<text x="24.3" y="325" font-size="8.5" text-anchor="middle" fill="#ff0a1e">10</text>
<text x="87" y="293.5" font-size="8.5" text-anchor="middle" fill="#ff0a1e">10</text>
<text x="143.3" y="276" font-size="8.5" text-anchor="middle" fill="#ff0a1e">10</text>
<text x="530.4" y="228.8" font-size="8.5" text-anchor="middle" fill="#ff0a1e">9</text>
<text x="543.3" y="222.7" font-size="8.5" text-anchor="middle" fill="#ff0a1e">9</text>
<text x="728.3" y="185.8" font-size="8.5" text-anchor="middle" fill="#ff0a1e">9</text>
<text x="924.3" y="130.6" font-size="8.5" text-anchor="middle" fill="#ff0a1e">10</text>
<text x="943.4" y="124.2" font-size="8.5" text-anchor="middle" fill="#ff0a1e">9</text>
<text x="982.1" y="108" font-size="8.5" text-anchor="middle" fill="#ff0a1e">10</text>
<text x="1006.2" y="101.7" font-size="8.5" text-anchor="middle" fill="#ff0a1e">8</text>
<text transform="translate(22.1,337.8) scale(1.15,1)" font-size="10.5" font-weight="bold" text-anchor="middle" fill="#000">5</text>
<text x="25.6" y="334.9" font-size="7" font-weight="bold" fill="#000">5</text>
<text transform="translate(36.5,332.5) scale(1.15,1)" font-size="10.5" font-weight="bold" text-anchor="middle" fill="#000">8</text>
<text transform="translate(50.5,325.7) scale(1.15,1)" font-size="10.5" font-weight="bold" text-anchor="middle" fill="#000">9</text>
<text transform="translate(64.5,318.6) scale(1.15,1)" font-size="10.5" font-weight="bold" text-anchor="middle" fill="#000">9</text>
<text transform="translate(78.5,311.5) scale(1.15,1)" font-size="10.5" font-weight="bold" text-anchor="middle" fill="#000">9</text>
<text transform="translate(92.5,304.6) scale(1.15,1)" font-size="10.5" font-weight="bold" text-anchor="middle" fill="#000">8</text>
<text transform="translate(106.5,298.6) scale(1.15,1)" font-size="10.5" font-weight="bold" text-anchor="middle" fill="#000">7</text>
<text transform="translate(120.1,294.3) scale(1.15,1)" font-size="10.5" font-weight="bold" text-anchor="middle" fill="#000">1</text>
<text x="123.6" y="291.4" font-size="7" font-weight="bold" fill="#000">5</text>
<text transform="translate(134.1,292.7) scale(1.15,1)" font-size="10.5" font-weight="bold" text-anchor="middle" fill="#000">3</text>
<text x="137.6" y="289.8" font-size="7" font-weight="bold" fill="#000">5</text>
<text transform="translate(148.5,289.4) scale(1.15,1)" font-size="10.5" font-weight="bold" text-anchor="middle" fill="#000">8</text>
<text transform="translate(162.5,286.5) scale(1.15,1)" font-size="10.5" font-weight="normal" text-anchor="middle" fill="#000">1</text>
<text transform="translate(176.5,286.8) scale(1.15,1)" font-size="10.5" font-weight="normal" text-anchor="middle" fill="#000">1</text>
<text transform="translate(190.5,287.2) scale(1.15,1)" font-size="10.5" font-weight="normal" text-anchor="middle" fill="#000">0</text>
<text transform="translate(204.1,287.1) scale(1.15,1)" font-size="10.5" font-weight="bold" text-anchor="middle" fill="#000">0</text>
<text x="207.6" y="284.2" font-size="7" font-weight="bold" fill="#000">5</text>
<text transform="translate(218.5,287.0) scale(1.15,1)" font-size="10.5" font-weight="bold" text-anchor="middle" fill="#000">0</text>
<text transform="translate(232.5,285.9) scale(1.15,1)" font-size="10.5" font-weight="bold" text-anchor="middle" fill="#000">3</text>
<text transform="translate(246.5,283.5) scale(1.15,1)" font-size="10.5" font-weight="bold" text-anchor="middle" fill="#000">3</text>
<text transform="translate(260.1,282.6) scale(1.15,1)" font-size="10.5" font-weight="normal" text-anchor="middle" fill="#000">0</text>
<text x="263.6" y="279.7" font-size="7" font-weight="normal" fill="#000">5</text>
<text transform="translate(274.1,282.7) scale(1.15,1)" font-size="10.5" font-weight="bold" text-anchor="middle" fill="#000">0</text>
<text x="277.6" y="279.8" font-size="7" font-weight="bold" fill="#000">5</text>
<text transform="translate(288.5,281.6) scale(1.15,1)" font-size="10.5" font-weight="bold" text-anchor="middle" fill="#000">2</text>
<text transform="translate(302.5,280.8) scale(1.15,1)" font-size="10.5" font-weight="bold" text-anchor="middle" fill="#000">0</text>
<text transform="translate(316.1,280.2) scale(1.15,1)" font-size="10.5" font-weight="bold" text-anchor="middle" fill="#000">1</text>
<text x="319.6" y="277.3" font-size="7" font-weight="bold" fill="#000">5</text>
<text transform="translate(330.5,278.1) scale(1.15,1)" font-size="10.5" font-weight="bold" text-anchor="middle" fill="#000">4</text>
<text transform="translate(344.5,275.9) scale(1.15,1)" font-size="10.5" font-weight="bold" text-anchor="middle" fill="#000">2</text>
<text transform="translate(358.5,273.5) scale(1.15,1)" font-size="10.5" font-weight="bold" text-anchor="middle" fill="#000">4</text>
<text transform="translate(372.5,268.6) scale(1.15,1)" font-size="10.5" font-weight="bold" text-anchor="middle" fill="#000">8</text>
<text transform="translate(386.1,262.0) scale(1.15,1)" font-size="10.5" font-weight="bold" text-anchor="middle" fill="#000">8</text>
<text x="389.6" y="259.1" font-size="7" font-weight="bold" fill="#000">5</text>
<text transform="translate(400.5,255.4) scale(1.15,1)" font-size="10.5" font-weight="bold" text-anchor="middle" fill="#000">8</text>
<text transform="translate(414.1,251.4) scale(1.15,1)" font-size="10.5" font-weight="bold" text-anchor="middle" fill="#000">2</text>
<text x="417.6" y="248.5" font-size="7" font-weight="bold" fill="#000">5</text>
<text transform="translate(428.5,250.3) scale(1.15,1)" font-size="10.5" font-weight="bold" text-anchor="middle" fill="#000">0</text>
<text transform="translate(442.5,249.8) scale(1.15,1)" font-size="10.5" font-weight="bold" text-anchor="middle" fill="#000">1</text>
<text transform="translate(456.5,249.1) scale(1.15,1)" font-size="10.5" font-weight="bold" text-anchor="middle" fill="#000">1</text>
<text transform="translate(470.5,248.5) scale(1.15,1)" font-size="10.5" font-weight="bold" text-anchor="middle" fill="#000">1</text>
<text transform="translate(484.5,247.9) scale(1.15,1)" font-size="10.5" font-weight="bold" text-anchor="middle" fill="#000">1</text>
<text transform="translate(498.5,247.1) scale(1.15,1)" font-size="10.5" font-weight="bold" text-anchor="middle" fill="#000">1</text>
<text transform="translate(512.5,245.8) scale(1.15,1)" font-size="10.5" font-weight="bold" text-anchor="middle" fill="#000">2</text>
<text transform="translate(526.1,242.4) scale(1.15,1)" font-size="10.5" font-weight="bold" text-anchor="middle" fill="#000">6</text>
<text x="529.6" y="239.5" font-size="7" font-weight="bold" fill="#000">5</text>
<text transform="translate(540.5,237.2) scale(1.15,1)" font-size="10.5" font-weight="bold" text-anchor="middle" fill="#000">7</text>
<text transform="translate(554.5,232.8) scale(1.15,1)" font-size="10.5" font-weight="bold" text-anchor="middle" fill="#000">4</text>
<text transform="translate(568.1,227.8) scale(1.15,1)" font-size="10.5" font-weight="bold" text-anchor="middle" fill="#000">8</text>
<text x="571.6" y="224.9" font-size="7" font-weight="bold" fill="#000">5</text>
<text transform="translate(582.1,220.9) scale(1.15,1)" font-size="10.5" font-weight="bold" text-anchor="middle" fill="#000">8</text>
<text x="585.6" y="218.0" font-size="7" font-weight="bold" fill="#000">5</text>
<text transform="translate(596.1,214.9) scale(1.15,1)" font-size="10.5" font-weight="bold" text-anchor="middle" fill="#000">6</text>
<text x="599.6" y="212.0" font-size="7" font-weight="bold" fill="#000">5</text>
<text transform="translate(610.1,209.3) scale(1.15,1)" font-size="10.5" font-weight="bold" text-anchor="middle" fill="#000">7</text>
<text x="613.6" y="206.4" font-size="7" font-weight="bold" fill="#000">5</text>
<text transform="translate(624.5,205.9) scale(1.15,1)" font-size="10.5" font-weight="bold" text-anchor="middle" fill="#000">1</text>
<text transform="translate(638.1,204.9) scale(1.15,1)" font-size="10.5" font-weight="bold" text-anchor="middle" fill="#000">1</text>
<text x="641.6" y="202.0" font-size="7" font-weight="bold" fill="#000">5</text>
<text transform="translate(652.1,204.1) scale(1.15,1)" font-size="10.5" font-weight="bold" text-anchor="middle" fill="#000">0</text>
<text x="655.6" y="201.2" font-size="7" font-weight="bold" fill="#000">5</text>
<text transform="translate(666.1,202.6) scale(1.15,1)" font-size="10.5" font-weight="bold" text-anchor="middle" fill="#000">3</text>
<text x="669.6" y="199.7" font-size="7" font-weight="bold" fill="#000">5</text>
<text transform="translate(680.5,202.4) scale(1.15,1)" font-size="10.5" font-weight="normal" text-anchor="middle" fill="#000">3</text>
<text transform="translate(694.1,205.1) scale(1.15,1)" font-size="10.5" font-weight="normal" text-anchor="middle" fill="#000">3</text>
<text x="697.6" y="202.2" font-size="7" font-weight="normal" fill="#000">5</text>
<text transform="translate(708.5,204.4) scale(1.15,1)" font-size="10.5" font-weight="bold" text-anchor="middle" fill="#000">5</text>
<text transform="translate(722.5,201.4) scale(1.15,1)" font-size="10.5" font-weight="bold" text-anchor="middle" fill="#000">4</text>
<text transform="translate(736.5,197.0) scale(1.15,1)" font-size="10.5" font-weight="bold" text-anchor="middle" fill="#000">7</text>
<text transform="translate(750.1,193.4) scale(1.15,1)" font-size="10.5" font-weight="bold" text-anchor="middle" fill="#000">0</text>
<text x="753.6" y="190.5" font-size="7" font-weight="bold" fill="#000">5</text>
<text transform="translate(764.1,193.0) scale(1.15,1)" font-size="10.5" font-weight="bold" text-anchor="middle" fill="#000">0</text>
<text x="767.6" y="190.1" font-size="7" font-weight="bold" fill="#000">5</text>
<text transform="translate(778.1,190.6) scale(1.15,1)" font-size="10.5" font-weight="bold" text-anchor="middle" fill="#000">5</text>
<text x="781.6" y="187.7" font-size="7" font-weight="bold" fill="#000">5</text>
<text transform="translate(792.5,188.0) scale(1.15,1)" font-size="10.5" font-weight="bold" text-anchor="middle" fill="#000">1</text>
<text transform="translate(806.1,184.6) scale(1.15,1)" font-size="10.5" font-weight="bold" text-anchor="middle" fill="#000">7</text>
<text x="809.6" y="181.7" font-size="7" font-weight="bold" fill="#000">5</text>
<text transform="translate(820.1,180.2) scale(1.15,1)" font-size="10.5" font-weight="bold" text-anchor="middle" fill="#000">3</text>
<text x="823.6" y="177.3" font-size="7" font-weight="bold" fill="#000">5</text>
<text transform="translate(834.1,177.9) scale(1.15,1)" font-size="10.5" font-weight="bold" text-anchor="middle" fill="#000">2</text>
<text x="837.6" y="175.0" font-size="7" font-weight="bold" fill="#000">5</text>
<text transform="translate(848.1,174.8) scale(1.15,1)" font-size="10.5" font-weight="bold" text-anchor="middle" fill="#000">5</text>
<text x="851.6" y="171.9" font-size="7" font-weight="bold" fill="#000">5</text>
<text transform="translate(862.1,169.2) scale(1.15,1)" font-size="10.5" font-weight="bold" text-anchor="middle" fill="#000">8</text>
<text x="865.6" y="166.3" font-size="7" font-weight="bold" fill="#000">5</text>
<text transform="translate(876.5,162.7) scale(1.15,1)" font-size="10.5" font-weight="bold" text-anchor="middle" fill="#000">8</text>
<text transform="translate(890.5,156.7) scale(1.15,1)" font-size="10.5" font-weight="bold" text-anchor="middle" fill="#000">7</text>
<text transform="translate(904.1,151.8) scale(1.15,1)" font-size="10.5" font-weight="bold" text-anchor="middle" fill="#000">5</text>
<text x="907.6" y="148.9" font-size="7" font-weight="bold" fill="#000">5</text>
<text transform="translate(918.1,147.5) scale(1.15,1)" font-size="10.5" font-weight="bold" text-anchor="middle" fill="#000">5</text>
<text x="921.6" y="144.6" font-size="7" font-weight="bold" fill="#000">5</text>
<text transform="translate(932.5,142.1) scale(1.15,1)" font-size="10.5" font-weight="bold" text-anchor="middle" fill="#000">8</text>
<text transform="translate(946.5,136.0) scale(1.15,1)" font-size="10.5" font-weight="bold" text-anchor="middle" fill="#000">7</text>
<text transform="translate(960.1,131.0) scale(1.15,1)" font-size="10.5" font-weight="bold" text-anchor="middle" fill="#000">5</text>
<text x="963.6" y="128.1" font-size="7" font-weight="bold" fill="#000">5</text>
<text transform="translate(974.5,125.8) scale(1.15,1)" font-size="10.5" font-weight="bold" text-anchor="middle" fill="#000">8</text>
<text transform="translate(988.1,120.5) scale(1.15,1)" font-size="10.5" font-weight="bold" text-anchor="middle" fill="#000">5</text>
<text x="991.6" y="117.6" font-size="7" font-weight="bold" fill="#000">5</text>
<text transform="translate(1002.5,115.9) scale(1.15,1)" font-size="10.5" font-weight="bold" text-anchor="middle" fill="#000">6</text>
<text transform="translate(1016.5,112.3) scale(1.15,1)" font-size="10.5" font-weight="bold" text-anchor="middle" fill="#000">3</text>
<text transform="translate(18.5,315.4) rotate(-90)" font-size="10" fill="#000" textLength="52.1" lengthAdjust="spacingAndGlyphs">Tiefencastel</text>
<text transform="translate(28.0,315.4) rotate(-90)" font-size="10" fill="#000" textLength="87.8" lengthAdjust="spacingAndGlyphs">417/3 &gt;Albulapass</text>
<text transform="translate(173.8,263.3) rotate(-90)" font-size="10" fill="#000" textLength="43.3" lengthAdjust="spacingAndGlyphs">&gt;Burvagn</text>
<text transform="translate(231.4,263.9) rotate(-90)" font-size="10" fill="#000" textLength="30" lengthAdjust="spacingAndGlyphs">Cunter</text>
<text transform="translate(269.7,259.7) rotate(-90)" font-size="10" fill="#000" textLength="40.8" lengthAdjust="spacingAndGlyphs">Savognin</text>
<text transform="translate(332.8,254.3) rotate(-90)" font-size="10" fill="#000" textLength="38.6" lengthAdjust="spacingAndGlyphs">Tinizong</text>
<text transform="translate(420.3,226.7) rotate(-90)" font-size="10" fill="#000" textLength="20.9" lengthAdjust="spacingAndGlyphs">Rona</text>
<rect x="465.0" y="222.4" width="1.4" height="1.3" fill="#6e5a5a"/>
<rect x="465.0" y="219.4" width="1.4" height="1.3" fill="#6e5a5a"/>
<text transform="translate(469.4,214.8) rotate(-90)" font-size="10" fill="#2a1408" textLength="27.2" lengthAdjust="spacingAndGlyphs">Gelgia</text>
<text transform="translate(537.8,215.4) rotate(-90)" font-size="10" fill="#000" textLength="37.4" lengthAdjust="spacingAndGlyphs">Mulegns</text>
<rect x="556.9" y="205.8" width="1.4" height="1.3" fill="#6e5a5a"/>
<rect x="556.9" y="202.8" width="1.4" height="1.3" fill="#6e5a5a"/>
<text transform="translate(561.3,198.2) rotate(-90)" font-size="10" fill="#2a1408" textLength="27.2" lengthAdjust="spacingAndGlyphs">Gelgia</text>
<text transform="translate(570.0,207.2) rotate(-90)" font-size="10" fill="#000" textLength="64.6" lengthAdjust="spacingAndGlyphs">Sur-Furnatsch</text>
<text transform="translate(586.6,197.0) rotate(-90)" font-size="10" fill="#000" textLength="34" lengthAdjust="spacingAndGlyphs">Scalotta</text>
<text transform="translate(619.6,182.2) rotate(-90)" font-size="10" fill="#000" textLength="77.8" lengthAdjust="spacingAndGlyphs">Lai da Marmorera</text>
<text transform="translate(628.8,182.2) rotate(-90)" font-size="10" fill="#000" textLength="45.2" lengthAdjust="spacingAndGlyphs">restaurant</text>
<text transform="translate(668.0,178.9) rotate(-90)" font-size="10" fill="#000" textLength="53.9" lengthAdjust="spacingAndGlyphs">&gt;Marmorera</text>
<rect x="700.2" y="180.5" width="1.4" height="1.3" fill="#6e5a5a"/>
<rect x="700.2" y="177.5" width="1.4" height="1.3" fill="#6e5a5a"/>
<text transform="translate(704.6,172.9) rotate(-90)" font-size="10" fill="#2a1408" textLength="27.2" lengthAdjust="spacingAndGlyphs">Gelgia</text>
<text transform="translate(721.9,178.9) rotate(-90)" font-size="10" fill="#000" textLength="40.9" lengthAdjust="spacingAndGlyphs">Stalveder</text>
<text transform="translate(768.6,170.0) rotate(-90)" font-size="10" fill="#000" textLength="21.7" lengthAdjust="spacingAndGlyphs">Bivio</text>
<rect x="796.4" y="162.4" width="1.4" height="1.3" fill="#6e5a5a"/>
<rect x="796.4" y="159.4" width="1.4" height="1.3" fill="#6e5a5a"/>
<text transform="translate(800.8,154.8) rotate(-90)" font-size="10" fill="#2a1408" textLength="27.2" lengthAdjust="spacingAndGlyphs">Gelgia</text>
<rect x="854.4" y="146.9" width="1.4" height="1.3" fill="#6e5a5a"/>
<rect x="854.4" y="143.9" width="1.4" height="1.3" fill="#6e5a5a"/>
<text transform="translate(858.8,139.3) rotate(-90)" font-size="10" fill="#2a1408" textLength="27.2" lengthAdjust="spacingAndGlyphs">Gelgia</text>
<text transform="translate(868.0,145.9) rotate(-90)" font-size="10" fill="#000" textLength="66.6" lengthAdjust="spacingAndGlyphs">&gt;Alp Suracqua</text>
<text transform="translate(962.4,108.4) rotate(-90)" font-size="10" fill="#000" textLength="47.7" lengthAdjust="spacingAndGlyphs">Sur Gonda</text>
<text transform="translate(994.5,96.2) rotate(-90)" font-size="10" fill="#000" textLength="81.7" lengthAdjust="spacingAndGlyphs">Ospizio La Veduta</text>
<text transform="translate(1026.9,88.2) rotate(-90)" font-size="10" fill="#000" textLength="44.8" lengthAdjust="spacingAndGlyphs">Julierpass</text>
<rect x="15" y="365" width="14" height="28" fill="#fffa00"/>
<rect x="29" y="365" width="14" height="28" fill="#ff9600"/>
<rect x="43" y="365" width="14" height="28" fill="#ff7800"/>
<rect x="57" y="365" width="14" height="28" fill="#ff7800"/>
<rect x="71" y="365" width="14" height="28" fill="#ff7800"/>
<rect x="85" y="365" width="14" height="28" fill="#ff9600"/>
<rect x="99" y="365" width="14" height="28" fill="#ffb400"/>
<rect x="113" y="365" width="14" height="28" fill="#ffffd7"/>
<rect x="127" y="365" width="14" height="28" fill="#ffff46"/>
<rect x="141" y="365" width="14" height="28" fill="#ff9600"/>
<rect x="155" y="365" width="14" height="28" fill="#ffffd7"/>
<rect x="169" y="365" width="14" height="28" fill="#ffffd7"/>
<rect x="183" y="365" width="14" height="28" fill="#ffffff"/>
<rect x="197" y="365" width="14" height="28" fill="#ffffff"/>
<rect x="211" y="365" width="14" height="28" fill="#ffffff"/>
<rect x="225" y="365" width="14" height="28" fill="#ffff46"/>
<rect x="239" y="365" width="14" height="28" fill="#ffff46"/>
<rect x="253" y="365" width="14" height="28" fill="#ffffff"/>
<rect x="267" y="365" width="14" height="28" fill="#ffffff"/>
<rect x="281" y="365" width="14" height="28" fill="#ffff9b"/>
<rect x="295" y="365" width="14" height="28" fill="#ffffff"/>
<rect x="309" y="365" width="14" height="28" fill="#ffffd7"/>
<rect x="323" y="365" width="14" height="28" fill="#ffff28"/>
<rect x="337" y="365" width="14" height="28" fill="#ffff9b"/>
<rect x="351" y="365" width="14" height="28" fill="#ffff28"/>
<rect x="365" y="365" width="14" height="28" fill="#ff9600"/>
<rect x="379" y="365" width="14" height="28" fill="#ff9600"/>
<rect x="393" y="365" width="14" height="28" fill="#ff9600"/>
<rect x="407" y="365" width="14" height="28" fill="#ffff9b"/>
<rect x="421" y="365" width="14" height="28" fill="#ffffff"/>
<rect x="435" y="365" width="14" height="28" fill="#ffffd7"/>
<rect x="449" y="365" width="14" height="28" fill="#ffffd7"/>
<rect x="463" y="365" width="14" height="28" fill="#ffffd7"/>
<rect x="477" y="365" width="14" height="28" fill="#ffffd7"/>
<rect x="491" y="365" width="14" height="28" fill="#ffffd7"/>
<rect x="505" y="365" width="14" height="28" fill="#ffff9b"/>
<rect x="519" y="365" width="14" height="28" fill="#ffd200"/>
<rect x="533" y="365" width="14" height="28" fill="#ffb400"/>
<rect x="547" y="365" width="14" height="28" fill="#ffff28"/>
<rect x="561" y="365" width="14" height="28" fill="#ff9600"/>
<rect x="575" y="365" width="14" height="28" fill="#ff9600"/>
<rect x="589" y="365" width="14" height="28" fill="#ffd200"/>
<rect x="603" y="365" width="14" height="28" fill="#ffb400"/>
<rect x="617" y="365" width="14" height="28" fill="#ffffd7"/>
<rect x="631" y="365" width="14" height="28" fill="#ffffd7"/>
<rect x="645" y="365" width="14" height="28" fill="#ffffff"/>
<rect x="659" y="365" width="14" height="28" fill="#ffff46"/>
<rect x="673" y="365" width="14" height="28" fill="#ffff46"/>
<rect x="687" y="365" width="14" height="28" fill="#ffff46"/>
<rect x="701" y="365" width="14" height="28" fill="#fffa00"/>
<rect x="715" y="365" width="14" height="28" fill="#ffff28"/>
<rect x="729" y="365" width="14" height="28" fill="#ffb400"/>
<rect x="743" y="365" width="14" height="28" fill="#ffffff"/>
<rect x="757" y="365" width="14" height="28" fill="#ffffff"/>
<rect x="771" y="365" width="14" height="28" fill="#fffa00"/>
<rect x="785" y="365" width="14" height="28" fill="#ffffd7"/>
<rect x="799" y="365" width="14" height="28" fill="#ffb400"/>
<rect x="813" y="365" width="14" height="28" fill="#ffff46"/>
<rect x="827" y="365" width="14" height="28" fill="#ffff9b"/>
<rect x="841" y="365" width="14" height="28" fill="#fffa00"/>
<rect x="855" y="365" width="14" height="28" fill="#ff9600"/>
<rect x="869" y="365" width="14" height="28" fill="#ff9600"/>
<rect x="883" y="365" width="14" height="28" fill="#ffb400"/>
<rect x="897" y="365" width="14" height="28" fill="#fffa00"/>
<rect x="911" y="365" width="14" height="28" fill="#fffa00"/>
<rect x="925" y="365" width="14" height="28" fill="#ff9600"/>
<rect x="939" y="365" width="14" height="28" fill="#ffb400"/>
<rect x="953" y="365" width="14" height="28" fill="#fffa00"/>
<rect x="967" y="365" width="14" height="28" fill="#ff9600"/>
<rect x="981" y="365" width="14" height="28" fill="#fffa00"/>
<rect x="995" y="365" width="14" height="28" fill="#ffd200"/>
<rect x="1009" y="365" width="14" height="28" fill="#ffff46"/>
<line x1="15.5" y1="365" x2="15.5" y2="393" stroke="#3c3c3c" stroke-width="1"/>
<line x1="29.5" y1="365" x2="29.5" y2="393" stroke="#3c3c3c" stroke-width="1"/>
<line x1="43.5" y1="365" x2="43.5" y2="393" stroke="#3c3c3c" stroke-width="1"/>
<line x1="57.5" y1="365" x2="57.5" y2="393" stroke="#3c3c3c" stroke-width="1"/>
<line x1="71.5" y1="365" x2="71.5" y2="393" stroke="#3c3c3c" stroke-width="1"/>
<line x1="85.5" y1="365" x2="85.5" y2="393" stroke="#3c3c3c" stroke-width="1"/>
<line x1="99.5" y1="365" x2="99.5" y2="393" stroke="#3c3c3c" stroke-width="1"/>
<line x1="113.5" y1="365" x2="113.5" y2="393" stroke="#3c3c3c" stroke-width="1"/>
<line x1="127.5" y1="365" x2="127.5" y2="393" stroke="#3c3c3c" stroke-width="1"/>
<line x1="141.5" y1="365" x2="141.5" y2="393" stroke="#3c3c3c" stroke-width="1"/>
<line x1="155.5" y1="365" x2="155.5" y2="393" stroke="#3c3c3c" stroke-width="1"/>
<line x1="169.5" y1="365" x2="169.5" y2="393" stroke="#3c3c3c" stroke-width="1"/>
<line x1="183.5" y1="365" x2="183.5" y2="393" stroke="#3c3c3c" stroke-width="1"/>
<line x1="197.5" y1="365" x2="197.5" y2="393" stroke="#3c3c3c" stroke-width="1"/>
<line x1="211.5" y1="365" x2="211.5" y2="393" stroke="#3c3c3c" stroke-width="1"/>
<line x1="225.5" y1="365" x2="225.5" y2="393" stroke="#3c3c3c" stroke-width="1"/>
<line x1="239.5" y1="365" x2="239.5" y2="393" stroke="#3c3c3c" stroke-width="1"/>
<line x1="253.5" y1="365" x2="253.5" y2="393" stroke="#3c3c3c" stroke-width="1"/>
<line x1="267.5" y1="365" x2="267.5" y2="393" stroke="#3c3c3c" stroke-width="1"/>
<line x1="281.5" y1="365" x2="281.5" y2="393" stroke="#3c3c3c" stroke-width="1"/>
<line x1="295.5" y1="365" x2="295.5" y2="393" stroke="#3c3c3c" stroke-width="1"/>
<line x1="309.5" y1="365" x2="309.5" y2="393" stroke="#3c3c3c" stroke-width="1"/>
<line x1="323.5" y1="365" x2="323.5" y2="393" stroke="#3c3c3c" stroke-width="1"/>
<line x1="337.5" y1="365" x2="337.5" y2="393" stroke="#3c3c3c" stroke-width="1"/>
<line x1="351.5" y1="365" x2="351.5" y2="393" stroke="#3c3c3c" stroke-width="1"/>
<line x1="365.5" y1="365" x2="365.5" y2="393" stroke="#3c3c3c" stroke-width="1"/>
<line x1="379.5" y1="365" x2="379.5" y2="393" stroke="#3c3c3c" stroke-width="1"/>
<line x1="393.5" y1="365" x2="393.5" y2="393" stroke="#3c3c3c" stroke-width="1"/>
<line x1="407.5" y1="365" x2="407.5" y2="393" stroke="#3c3c3c" stroke-width="1"/>
<line x1="421.5" y1="365" x2="421.5" y2="393" stroke="#3c3c3c" stroke-width="1"/>
<line x1="435.5" y1="365" x2="435.5" y2="393" stroke="#3c3c3c" stroke-width="1"/>
<line x1="449.5" y1="365" x2="449.5" y2="393" stroke="#3c3c3c" stroke-width="1"/>
<line x1="463.5" y1="365" x2="463.5" y2="393" stroke="#3c3c3c" stroke-width="1"/>
<line x1="477.5" y1="365" x2="477.5" y2="393" stroke="#3c3c3c" stroke-width="1"/>
<line x1="491.5" y1="365" x2="491.5" y2="393" stroke="#3c3c3c" stroke-width="1"/>
<line x1="505.5" y1="365" x2="505.5" y2="393" stroke="#3c3c3c" stroke-width="1"/>
<line x1="519.5" y1="365" x2="519.5" y2="393" stroke="#3c3c3c" stroke-width="1"/>
<line x1="533.5" y1="365" x2="533.5" y2="393" stroke="#3c3c3c" stroke-width="1"/>
<line x1="547.5" y1="365" x2="547.5" y2="393" stroke="#3c3c3c" stroke-width="1"/>
<line x1="561.5" y1="365" x2="561.5" y2="393" stroke="#3c3c3c" stroke-width="1"/>
<line x1="575.5" y1="365" x2="575.5" y2="393" stroke="#3c3c3c" stroke-width="1"/>
<line x1="589.5" y1="365" x2="589.5" y2="393" stroke="#3c3c3c" stroke-width="1"/>
<line x1="603.5" y1="365" x2="603.5" y2="393" stroke="#3c3c3c" stroke-width="1"/>
<line x1="617.5" y1="365" x2="617.5" y2="393" stroke="#3c3c3c" stroke-width="1"/>
<line x1="631.5" y1="365" x2="631.5" y2="393" stroke="#3c3c3c" stroke-width="1"/>
<line x1="645.5" y1="365" x2="645.5" y2="393" stroke="#3c3c3c" stroke-width="1"/>
<line x1="659.5" y1="365" x2="659.5" y2="393" stroke="#3c3c3c" stroke-width="1"/>
<line x1="673.5" y1="365" x2="673.5" y2="393" stroke="#3c3c3c" stroke-width="1"/>
<line x1="687.5" y1="365" x2="687.5" y2="393" stroke="#3c3c3c" stroke-width="1"/>
<line x1="701.5" y1="365" x2="701.5" y2="393" stroke="#3c3c3c" stroke-width="1"/>
<line x1="715.5" y1="365" x2="715.5" y2="393" stroke="#3c3c3c" stroke-width="1"/>
<line x1="729.5" y1="365" x2="729.5" y2="393" stroke="#3c3c3c" stroke-width="1"/>
<line x1="743.5" y1="365" x2="743.5" y2="393" stroke="#3c3c3c" stroke-width="1"/>
<line x1="757.5" y1="365" x2="757.5" y2="393" stroke="#3c3c3c" stroke-width="1"/>
<line x1="771.5" y1="365" x2="771.5" y2="393" stroke="#3c3c3c" stroke-width="1"/>
<line x1="785.5" y1="365" x2="785.5" y2="393" stroke="#3c3c3c" stroke-width="1"/>
<line x1="799.5" y1="365" x2="799.5" y2="393" stroke="#3c3c3c" stroke-width="1"/>
<line x1="813.5" y1="365" x2="813.5" y2="393" stroke="#3c3c3c" stroke-width="1"/>
<line x1="827.5" y1="365" x2="827.5" y2="393" stroke="#3c3c3c" stroke-width="1"/>
<line x1="841.5" y1="365" x2="841.5" y2="393" stroke="#3c3c3c" stroke-width="1"/>
<line x1="855.5" y1="365" x2="855.5" y2="393" stroke="#3c3c3c" stroke-width="1"/>
<line x1="869.5" y1="365" x2="869.5" y2="393" stroke="#3c3c3c" stroke-width="1"/>
<line x1="883.5" y1="365" x2="883.5" y2="393" stroke="#3c3c3c" stroke-width="1"/>
<line x1="897.5" y1="365" x2="897.5" y2="393" stroke="#3c3c3c" stroke-width="1"/>
<line x1="911.5" y1="365" x2="911.5" y2="393" stroke="#3c3c3c" stroke-width="1"/>
<line x1="925.5" y1="365" x2="925.5" y2="393" stroke="#3c3c3c" stroke-width="1"/>
<line x1="939.5" y1="365" x2="939.5" y2="393" stroke="#3c3c3c" stroke-width="1"/>
<line x1="953.5" y1="365" x2="953.5" y2="393" stroke="#3c3c3c" stroke-width="1"/>
<line x1="967.5" y1="365" x2="967.5" y2="393" stroke="#3c3c3c" stroke-width="1"/>
<line x1="981.5" y1="365" x2="981.5" y2="393" stroke="#3c3c3c" stroke-width="1"/>
<line x1="995.5" y1="365" x2="995.5" y2="393" stroke="#3c3c3c" stroke-width="1"/>
<line x1="1009.5" y1="365" x2="1009.5" y2="393" stroke="#3c3c3c" stroke-width="1"/>
<line x1="1023.5" y1="365" x2="1023.5" y2="393" stroke="#3c3c3c" stroke-width="1"/>
<line x1="15" y1="392.5" x2="1024" y2="392.5" stroke="#3c3c3c" stroke-width="1"/>
<text transform="translate(24.5,390) rotate(-90)" font-size="10" fill="#343434">850</text>
<text transform="translate(38.5,390) rotate(-90)" font-size="10" fill="#343434">877</text>
<text transform="translate(52.5,390) rotate(-90)" font-size="10" fill="#343434">917</text>
<text transform="translate(66.5,390) rotate(-90)" font-size="10" fill="#343434">962</text>
<text transform="translate(80.5,390) rotate(-90)" font-size="10" fill="#343434">1006</text>
<text transform="translate(94.5,390) rotate(-90)" font-size="10" fill="#343434">1051</text>
<text transform="translate(108.5,390) rotate(-90)" font-size="10" fill="#343434">1092</text>
<text transform="translate(122.5,390) rotate(-90)" font-size="10" fill="#343434">1126</text>
<text transform="translate(136.5,390) rotate(-90)" font-size="10" fill="#343434">1133</text>
<text transform="translate(150.5,390) rotate(-90)" font-size="10" fill="#343434">1151</text>
<text transform="translate(164.5,390) rotate(-90)" font-size="10" fill="#343434">1190</text>
<text transform="translate(178.5,390) rotate(-90)" font-size="10" fill="#343434">1185</text>
<text transform="translate(192.5,390) rotate(-90)" font-size="10" fill="#343434">1181</text>
<text transform="translate(206.5,390) rotate(-90)" font-size="10" fill="#343434">1180</text>
<text transform="translate(220.5,390) rotate(-90)" font-size="10" fill="#343434">1182</text>
<text transform="translate(234.5,390) rotate(-90)" font-size="10" fill="#343434">1182</text>
<text transform="translate(248.5,390) rotate(-90)" font-size="10" fill="#343434">1196</text>
<text transform="translate(262.5,390) rotate(-90)" font-size="10" fill="#343434">1211</text>
<text transform="translate(276.5,390) rotate(-90)" font-size="10" fill="#343434">1208</text>
<text transform="translate(290.5,390) rotate(-90)" font-size="10" fill="#343434">1210</text>
<text transform="translate(304.5,390) rotate(-90)" font-size="10" fill="#343434">1221</text>
<text transform="translate(318.5,390) rotate(-90)" font-size="10" fill="#343434">1221</text>
<text transform="translate(332.5,390) rotate(-90)" font-size="10" fill="#343434">1228</text>
<text transform="translate(346.5,390) rotate(-90)" font-size="10" fill="#343434">1247</text>
<text transform="translate(360.5,390) rotate(-90)" font-size="10" fill="#343434">1256</text>
<text transform="translate(374.5,390) rotate(-90)" font-size="10" fill="#343434">1277</text>
<text transform="translate(388.5,390) rotate(-90)" font-size="10" fill="#343434">1317</text>
<text transform="translate(402.5,390) rotate(-90)" font-size="10" fill="#343434">1360</text>
<text transform="translate(416.5,390) rotate(-90)" font-size="10" fill="#343434">1399</text>
<text transform="translate(430.5,390) rotate(-90)" font-size="10" fill="#343434">1411</text>
<text transform="translate(444.5,390) rotate(-90)" font-size="10" fill="#343434">1412</text>
<text transform="translate(458.5,390) rotate(-90)" font-size="10" fill="#343434">1417</text>
<text transform="translate(472.5,390) rotate(-90)" font-size="10" fill="#343434">1421</text>
<text transform="translate(486.5,390) rotate(-90)" font-size="10" fill="#343434">1425</text>
<text transform="translate(500.5,390) rotate(-90)" font-size="10" fill="#343434">1429</text>
<text transform="translate(514.5,390) rotate(-90)" font-size="10" fill="#343434">1435</text>
<text transform="translate(528.5,390) rotate(-90)" font-size="10" fill="#343434">1445</text>
<text transform="translate(542.5,390) rotate(-90)" font-size="10" fill="#343434">1477</text>
<text transform="translate(556.5,390) rotate(-90)" font-size="10" fill="#343434">1511</text>
<text transform="translate(570.5,390) rotate(-90)" font-size="10" fill="#343434">1531</text>
<text transform="translate(584.5,390) rotate(-90)" font-size="10" fill="#343434">1574</text>
<text transform="translate(598.5,390) rotate(-90)" font-size="10" fill="#343434">1617</text>
<text transform="translate(612.5,390) rotate(-90)" font-size="10" fill="#343434">1650</text>
<text transform="translate(626.5,390) rotate(-90)" font-size="10" fill="#343434">1687</text>
<text transform="translate(640.5,390) rotate(-90)" font-size="10" fill="#343434">1692</text>
<text transform="translate(654.5,390) rotate(-90)" font-size="10" fill="#343434">1700</text>
<text transform="translate(668.5,390) rotate(-90)" font-size="10" fill="#343434">1702</text>
<text transform="translate(682.5,390) rotate(-90)" font-size="10" fill="#343434">1719</text>
<text transform="translate(696.5,390) rotate(-90)" font-size="10" fill="#343434">1704</text>
<text transform="translate(710.5,390) rotate(-90)" font-size="10" fill="#343434">1686</text>
<text transform="translate(724.5,390) rotate(-90)" font-size="10" fill="#343434">1712</text>
<text transform="translate(738.5,390) rotate(-90)" font-size="10" fill="#343434">1733</text>
<text transform="translate(752.5,390) rotate(-90)" font-size="10" fill="#343434">1767</text>
<text transform="translate(766.5,390) rotate(-90)" font-size="10" fill="#343434">1769</text>
<text transform="translate(780.5,390) rotate(-90)" font-size="10" fill="#343434">1772</text>
<text transform="translate(794.5,390) rotate(-90)" font-size="10" fill="#343434">1799</text>
<text transform="translate(808.5,390) rotate(-90)" font-size="10" fill="#343434">1804</text>
<text transform="translate(822.5,390) rotate(-90)" font-size="10" fill="#343434">1842</text>
<text transform="translate(836.5,390) rotate(-90)" font-size="10" fill="#343434">1859</text>
<text transform="translate(850.5,390) rotate(-90)" font-size="10" fill="#343434">1871</text>
<text transform="translate(864.5,390) rotate(-90)" font-size="10" fill="#343434">1898</text>
<text transform="translate(878.5,390) rotate(-90)" font-size="10" fill="#343434">1941</text>
<text transform="translate(892.5,390) rotate(-90)" font-size="10" fill="#343434">1980</text>
<text transform="translate(906.5,390) rotate(-90)" font-size="10" fill="#343434">2015</text>
<text transform="translate(920.5,390) rotate(-90)" font-size="10" fill="#343434">2042</text>
<text transform="translate(934.5,390) rotate(-90)" font-size="10" fill="#343434">2069</text>
<text transform="translate(948.5,390) rotate(-90)" font-size="10" fill="#343434">2110</text>
<text transform="translate(962.5,390) rotate(-90)" font-size="10" fill="#343434">2145</text>
<text transform="translate(976.5,390) rotate(-90)" font-size="10" fill="#343434">2172</text>
<text transform="translate(990.5,390) rotate(-90)" font-size="10" fill="#343434">2211</text>
<text transform="translate(1004.5,390) rotate(-90)" font-size="10" fill="#343434">2238</text>
<text transform="translate(1018.5,390) rotate(-90)" font-size="10" fill="#343434">2268</text>
<text transform="translate(1032.5,390) rotate(-90)" font-size="10" fill="#343434">2284</text>
<text x="919.6" y="362.7" font-size="9.6" fill="#1010c8" stroke="#1010c8" stroke-width="0.1" textLength="106" lengthAdjust="spacing">©www.cyclingcols.com</text>
<rect x="926.6" y="364" width="99" height="1" fill="#1a1acd"/>
<rect x="37" y="401" width="28" height="6" fill="#ff7800"/>
<text x="67.2" y="407" font-size="8.5" fill="#ff0a1e">9.1</text>
<rect x="41" y="408" width="5" height="6" fill="#ff5000"/>
<text x="48.6" y="414" font-size="8.5" fill="#ff0a1e">10.1</text>
<rect x="847" y="394" width="140" height="6" fill="#ffce00"/>
<text x="989.5" y="400" font-size="8.5" fill="#ff0a1e">7.0</text>
<rect x="446.5" y="394.5" width="36" height="19" fill="none" stroke="#ff0000" stroke-width="1"/>
<text x="448" y="402.8" font-size="9" fill="#ff0a1e" textLength="33" lengthAdjust="spacing">36.0km</text>
<text x="448" y="412" font-size="9" fill="#ff0a1e">4.0%</text>
<rect x="15" y="415" width="1009" height="4" fill="#000"/>
<rect x="16" y="416" width="27" height="2" fill="#fff"/>
<rect x="72" y="416" width="27" height="2" fill="#fff"/>
<rect x="128" y="416" width="27" height="2" fill="#fff"/>
<rect x="184" y="416" width="27" height="2" fill="#fff"/>
<rect x="240" y="416" width="27" height="2" fill="#fff"/>
<rect x="296" y="416" width="27" height="2" fill="#fff"/>
<rect x="352" y="416" width="27" height="2" fill="#fff"/>
<rect x="408" y="416" width="27" height="2" fill="#fff"/>
<rect x="464" y="416" width="27" height="2" fill="#fff"/>
<rect x="520" y="416" width="27" height="2" fill="#fff"/>
<rect x="576" y="416" width="27" height="2" fill="#fff"/>
<rect x="632" y="416" width="27" height="2" fill="#fff"/>
<rect x="688" y="416" width="27" height="2" fill="#fff"/>
<rect x="744" y="416" width="27" height="2" fill="#fff"/>
<rect x="800" y="416" width="27" height="2" fill="#fff"/>
<rect x="856" y="416" width="27" height="2" fill="#fff"/>
<rect x="912" y="416" width="27" height="2" fill="#fff"/>
<rect x="968" y="416" width="27" height="2" fill="#fff"/>
<text x="14.5" y="428" font-size="8.5" text-anchor="middle" fill="#000">36</text>
<text x="42.5" y="428" font-size="8.5" text-anchor="middle" fill="#000">35</text>
<text x="70.5" y="428" font-size="8.5" text-anchor="middle" fill="#000">34</text>
<text x="98.5" y="428" font-size="8.5" text-anchor="middle" fill="#000">33</text>
<text x="126.5" y="428" font-size="8.5" text-anchor="middle" fill="#000">32</text>
<text x="154.5" y="428" font-size="8.5" text-anchor="middle" fill="#000">31</text>
<text x="182.5" y="428" font-size="8.5" text-anchor="middle" fill="#000">30</text>
<text x="210.5" y="428" font-size="8.5" text-anchor="middle" fill="#000">29</text>
<text x="238.5" y="428" font-size="8.5" text-anchor="middle" fill="#000">28</text>
<text x="266.5" y="428" font-size="8.5" text-anchor="middle" fill="#000">27</text>
<text x="294.5" y="428" font-size="8.5" text-anchor="middle" fill="#000">26</text>
<text x="322.5" y="428" font-size="8.5" text-anchor="middle" fill="#000">25</text>
<text x="350.5" y="428" font-size="8.5" text-anchor="middle" fill="#000">24</text>
<text x="378.5" y="428" font-size="8.5" text-anchor="middle" fill="#000">23</text>
<text x="406.5" y="428" font-size="8.5" text-anchor="middle" fill="#000">22</text>
<text x="434.5" y="428" font-size="8.5" text-anchor="middle" fill="#000">21</text>
<text x="462.5" y="428" font-size="8.5" text-anchor="middle" fill="#000">20</text>
<text x="490.5" y="428" font-size="8.5" text-anchor="middle" fill="#000">19</text>
<text x="518.5" y="428" font-size="8.5" text-anchor="middle" fill="#000">18</text>
<text x="546.5" y="428" font-size="8.5" text-anchor="middle" fill="#000">17</text>
<text x="574.5" y="428" font-size="8.5" text-anchor="middle" fill="#000">16</text>
<text x="602.5" y="428" font-size="8.5" text-anchor="middle" fill="#000">15</text>
<text x="630.5" y="428" font-size="8.5" text-anchor="middle" fill="#000">14</text>
<text x="658.5" y="428" font-size="8.5" text-anchor="middle" fill="#000">13</text>
<text x="686.5" y="428" font-size="8.5" text-anchor="middle" fill="#000">12</text>
<text x="714.5" y="428" font-size="8.5" text-anchor="middle" fill="#000">11</text>
<text x="742.5" y="428" font-size="8.5" text-anchor="middle" fill="#000">10</text>
<text x="770.5" y="428" font-size="8.5" text-anchor="middle" fill="#000">9</text>
<text x="798.5" y="428" font-size="8.5" text-anchor="middle" fill="#000">8</text>
<text x="826.5" y="428" font-size="8.5" text-anchor="middle" fill="#000">7</text>
<text x="854.5" y="428" font-size="8.5" text-anchor="middle" fill="#000">6</text>
<text x="882.5" y="428" font-size="8.5" text-anchor="middle" fill="#000">5</text>
<text x="910.5" y="428" font-size="8.5" text-anchor="middle" fill="#000">4</text>
<text x="938.5" y="428" font-size="8.5" text-anchor="middle" fill="#000">3</text>
<text x="966.5" y="428" font-size="8.5" text-anchor="middle" fill="#000">2</text>
<text x="994.5" y="428" font-size="8.5" text-anchor="middle" fill="#000">1</text>
<text x="1022.5" y="428" font-size="8.5" text-anchor="middle" fill="#000">0</text>
</svg></body></html>
